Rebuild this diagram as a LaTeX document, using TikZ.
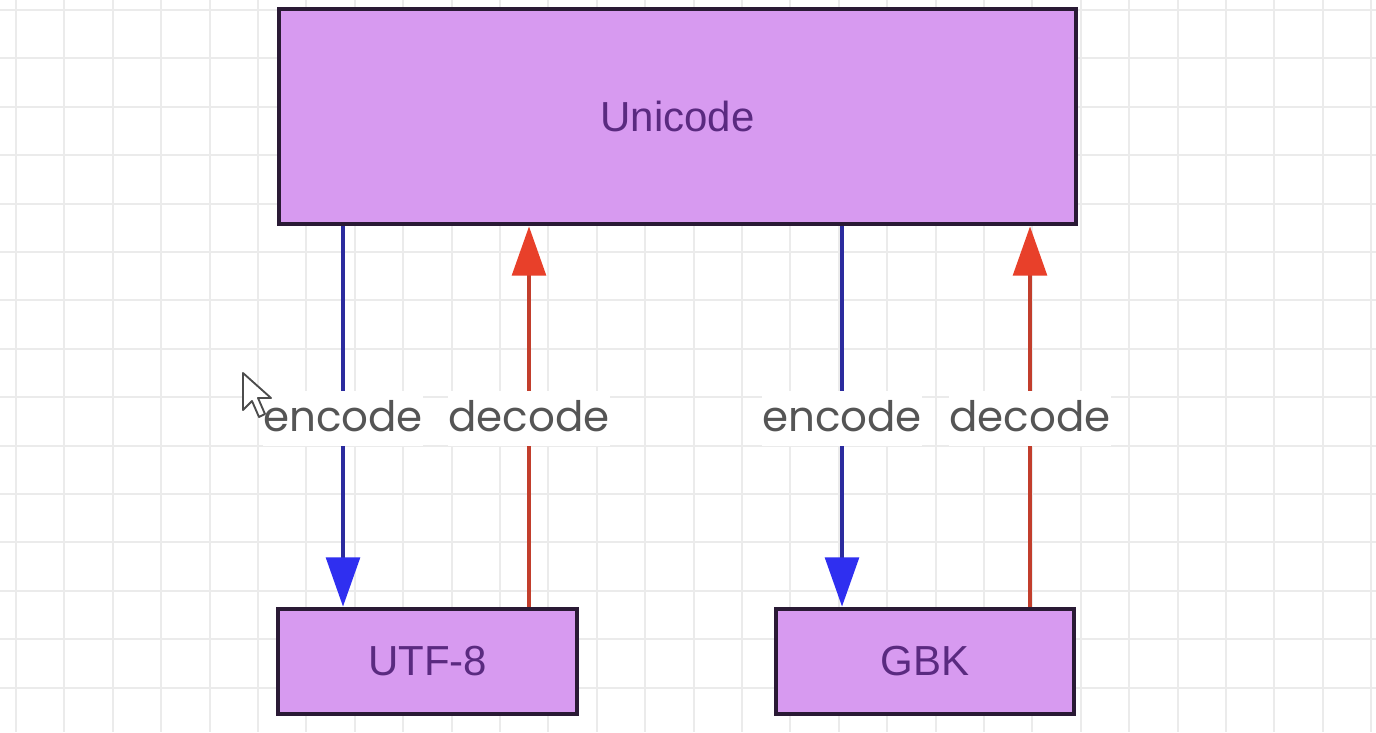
\documentclass[tikz,border=0pt]{standalone}
\usepackage{fontspec}
\setmainfont{Liberation Sans}
\newfontfamily\labelfont{Poppins}
\usetikzlibrary{arrows.meta}
\definecolor{gridc}{HTML}{EBEBEB}
\definecolor{boxfill}{HTML}{D79AF0}
\definecolor{boxdraw}{HTML}{2A1A35}
\definecolor{boxtext}{HTML}{5A2A80}
\definecolor{encline}{HTML}{2B2B9E}
\definecolor{enchead}{HTML}{2F2FF0}
\definecolor{decline}{HTML}{C23E2C}
\definecolor{dechead}{HTML}{E8402A}
\definecolor{labtext}{HTML}{555555}
\tikzset{
  codebox/.style={draw=boxdraw, fill=boxfill, line width=3.4pt, inner sep=0pt,
    text=boxtext, font=\fontsize{31.5}{36}\selectfont},
  encarrow/.style={draw=encline, line width=3.6pt,
    -{Triangle[length=37pt,width=25pt,color=enchead]}},
  decarrow/.style={draw=decline, line width=3.6pt,
    -{Triangle[length=37pt,width=25pt,color=dechead]}},
  codelabel/.style={fill=white, text=labtext, inner sep=0pt, minimum height=41pt,
    yshift=-4.5pt, font=\labelfont\fontsize{31.5}{36}\selectfont},
}
\newcommand{\labtxt}[1]{\raisebox{4.5pt}{#1}}
\begin{document}
\begin{tikzpicture}[x=0.75pt,y=-0.75pt]
\useasboundingbox (0,0) rectangle (1376,732);
\fill[white] (0,0) rectangle (1376,732);
% grid
\foreach \k in {0,...,28} {
  \draw[gridc, line width=1.4pt] ({16+48.4*\k},0) -- ({16+48.4*\k},732);
}
\foreach \k in {0,...,15} {
  \draw[gridc, line width=1.4pt] (0,{10+48.4*\k}) -- (1376,{10+48.4*\k});
}
% boxes
\node[codebox, minimum width=597.75pt, minimum height=161.25pt] (uni) at (677.5,116.5) {Unicode};
\node[codebox, minimum width=224.25pt, minimum height=78.75pt] (utf) at (427.5,661.5) {UTF-8};
\node[codebox, minimum width=223.5pt, minimum height=78.75pt] (gbk) at (925,661.5) {GBK};
% arrow x positions
\coordinate (e1) at (343,0);
\coordinate (d1) at (529,0);
\coordinate (e2) at (842,0);
\coordinate (d2) at (1030,0);
% arrows
\draw[encarrow] (uni.south -| e1) -- (utf.north -| e1)
  node[codelabel, pos=0.49] (le1) {\labtxt{encode}};
\draw[decarrow] (utf.north -| d1) -- (uni.south -| d1)
  node[codelabel, pos=0.51] (ld1) {\labtxt{decode}};
\draw[encarrow] (uni.south -| e2) -- (gbk.north -| e2)
  node[codelabel, pos=0.49] (le2) {\labtxt{encode}};
\draw[decarrow] (gbk.north -| d2) -- (uni.south -| d2)
  node[codelabel, pos=0.51] (ld2) {\labtxt{decode}};
% mouse cursor
\draw[fill=white, draw=black!70, line width=1.4pt, line join=round]
  (243,373) -- (243,410) -- (252,401) -- (259,417) -- (265,414) -- (258,398) -- (271,398) -- cycle;
\end{tikzpicture}
\end{document}
